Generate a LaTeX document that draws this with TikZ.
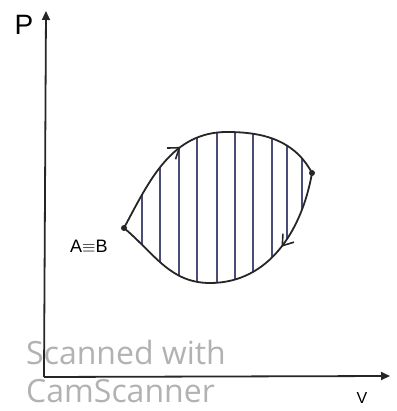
\documentclass[tikz,border=0pt]{standalone}
\usepackage{fontspec}
\setmainfont{Liberation Sans}
\newfontfamily\markfont{Open Sans}
\usetikzlibrary{arrows.meta,positioning,decorations.markings}

\begin{document}
\begin{tikzpicture}[
    x=1pt, y=1pt,
    >=Stealth,
    axis/.style={line width=1.8pt, color=black!85, -{Triangle[length=9pt,width=8pt]}},
    cycle/.style={line width=1.8pt, color=black!85},
    hatch/.style={line width=1.5pt, color=black!75!blue!70},
    dot/.style={circle, fill=black!85, inner sep=0pt, minimum size=6pt},
    flow/.style={postaction={decorate, decoration={markings,
        mark=at position #1 with {\arrow{Straight Barb[length=10pt,width=14pt,line width=1.6pt]}}}}},
    lbl/.style={inner sep=0pt},
    watermark/.style={font=\markfont\fontsize{32}{32}\selectfont, color=black!30, anchor=west, inner sep=0pt}
]
    \useasboundingbox (0,0) rectangle (396,411);
    % watermark of the scan
    \node[watermark] (scan1) at (26,58) {Scanned with};
    \node[watermark] (scan2) at (26,20) {CamScanner};
    % axes
    \coordinate (O) at (44,34);
    \coordinate (ptip) at (46,400);
    \coordinate (vtip) at (390,35);
    \draw[axis] (O) -- (ptip);
    \draw[axis] (O) -- (vtip);
    \node[lbl, font=\fontsize{28}{28}\selectfont] (P) at (24,386) {P};
    \node[lbl, font=\fontsize{16}{16}\selectfont] (V) at (362,13) {V};
    % cycle
    \node[dot] (A) at (124,183) {};
    \node[dot] (R) at (312,238) {};
    \begin{scope}
        \clip (A.center) to[out=62,in=180] (227,279) to[out=0,in=118] (R.center)
              to[out=-100,in=0] (210,128) to[out=180,in=-40] (A.center);
        \foreach \x in {142,160,179,197,217,235,253,272,287,302}
            \draw[hatch] (\x,100) -- (\x,300);
    \end{scope}
    \draw[cycle, flow=0.4] (A.center) to[out=62,in=180] (227,279) to[out=0,in=118] (R.center);
    \draw[cycle, flow=0.3] (R.center) to[out=-100,in=0] (210,128) to[out=180,in=-40] (A.center);
    \node[lbl, font=\fontsize{18}{18}\selectfont, left=13pt of A, yshift=-18pt] (AB) {A$\equiv$B};
\end{tikzpicture}
\end{document}
